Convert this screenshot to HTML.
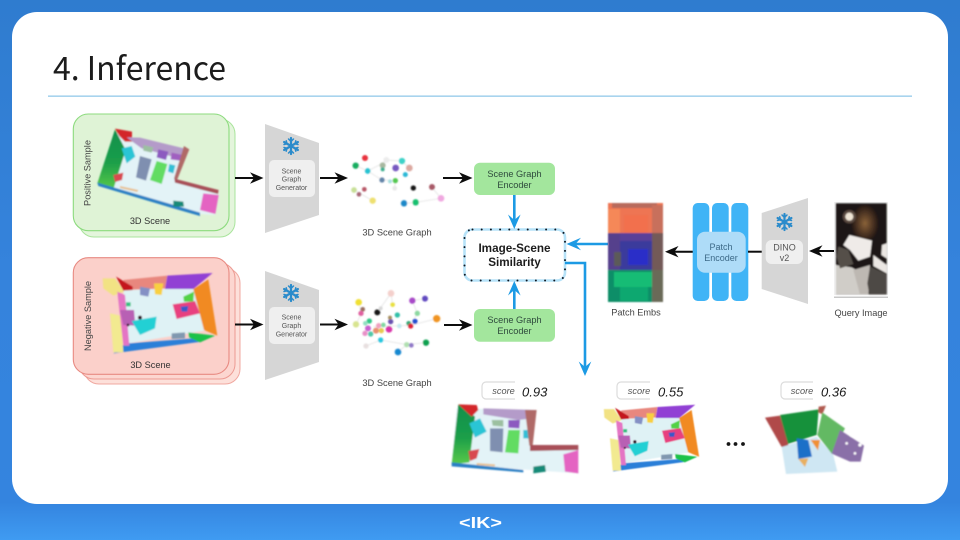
<!DOCTYPE html>
<html><head><meta charset="utf-8">
<style>
html,body{margin:0;padding:0;width:960px;height:540px;overflow:hidden;background:#fff}
svg{display:block}
text{font-family:"Liberation Sans",sans-serif}
</style></head><body>
<svg xmlns="http://www.w3.org/2000/svg" width="960" height="540" viewBox="0 0 960 540">
<defs>
<linearGradient id="bg" x1="0" y1="0" x2="0" y2="1"><stop offset="0" stop-color="#2f7ccf"/><stop offset=".5" stop-color="#3583dc"/><stop offset=".93" stop-color="#3484df"/><stop offset="1" stop-color="#3f9bf2"/></linearGradient>
<linearGradient id="wall" x1="0" y1="0" x2="0" y2="1"><stop offset="0" stop-color="#0f8f4c"/><stop offset=".55" stop-color="#1b9e4a"/><stop offset="1" stop-color="#58c948"/></linearGradient>
<radialGradient id="glow" cx=".5" cy=".5" r=".5"><stop offset="0" stop-color="#8a6238"/><stop offset=".6" stop-color="#4a3222"/><stop offset="1" stop-color="#1e1512"/></radialGradient>
<filter id="all" filterUnits="userSpaceOnUse" x="0" y="100" width="960" height="400"><feGaussianBlur stdDeviation=".3"/></filter>
<filter id="b1" x="-5%" y="-5%" width="110%" height="110%"><feGaussianBlur stdDeviation="2.4"/></filter>
<filter id="b2" x="-5%" y="-5%" width="110%" height="110%"><feGaussianBlur stdDeviation=".8"/></filter>
<filter id="b3" x="-10%" y="-10%" width="120%" height="120%"><feGaussianBlur stdDeviation="2"/></filter>

<g id="pos" filter="url(#b1)">
<polygon points="170,100 340,145 385,150 345,240 475,275 465,345 420,342 115,250" fill="#e3f3f7"/>
<polygon points="165,88 112,250 160,268 197,150" fill="url(#wall)"/>
<polygon points="165,86 216,95 216,125 195,125 178,108" fill="#d3262c"/>
<polygon points="200,112 240,113 372,145 365,178 320,165 245,145" fill="#b49bc9"/>
<polygon points="250,135 280,142 275,158 250,152" fill="#9cc0a0"/>
<polygon points="295,148 325,155 318,180 290,172" fill="#8c5ac0"/>
<polygon points="335,158 368,165 360,182 332,178" fill="#a060c0"/>
<polygon points="185,145 215,138 226,170 200,190" fill="#29c5d5"/>
<polygon points="240,168 275,178 258,242 228,232" fill="#7f8fb0"/>
<polygon points="290,183 322,192 305,252 270,240" fill="#62dc62"/>
<polygon points="328,192 346,196 340,220 324,215" fill="#30bfd6"/>
<polygon points="160,225 190,218 186,240 165,246" fill="#d84850"/>
<polygon points="372,138 388,148 352,238 342,236" fill="#b06a68"/>
<polygon points="343,236 476,270 474,282 345,248" fill="#a85058"/>
<polygon points="430,280 476,285 466,342 420,330" fill="#e463c2"/>
<polygon points="112,248 420,338 420,348 340,325 115,258" fill="#2a80c4"/>
<polygon points="340,302 370,305 372,320 340,320" fill="#178a78"/>
<polygon points="180,258 235,270 232,276 180,264" fill="#e8c090"/>
</g>

<g id="neg" filter="url(#b1)">
<polygon points="190,135 400,130 445,255 205,295" fill="#dff2f5"/>
<polygon points="190,105 322,92 315,130 195,135" fill="#e8877e"/>
<polygon points="322,92 458,84 400,132 315,132" fill="#9140d4"/>
<polygon points="445,103 472,272 432,255 400,132" fill="#f18a20"/>
<polygon points="160,325 425,290 430,278 205,295 190,300" fill="#2a7fd8"/>
<polygon points="385,262 466,272 420,292 388,278" fill="#1fc24a"/>
<polygon points="338,178 405,168 420,205 350,222" fill="#e8417f"/>
<polygon points="362,185 385,183 382,200 365,200" fill="#3a58c8"/>
<polygon points="370,155 402,140 400,170 372,170" fill="#52d244"/>
<polygon points="128,100 165,100 192,140 160,152 130,130" fill="#f2e284"/>
<polygon points="168,95 218,125 218,135 190,137" fill="#c4121f"/>
<polygon points="150,205 182,212 190,322 160,322" fill="#f2ea90"/>
<polygon points="172,140 195,150 208,302 190,302" fill="#e474c4"/>
<polygon points="180,195 222,195 226,242 190,240" fill="#b860b4"/>
<polygon points="215,228 290,215 285,250 240,270" fill="#20d0d4"/>
<polygon points="240,125 270,130 265,155 240,150" fill="#8490c4"/>
<polygon points="282,115 310,115 305,150 285,148" fill="#f8d040"/>
<polygon points="198,172 212,172 212,184 198,184" fill="#30c080"/>
<circle cx="240" cy="218" r="6" fill="#301020"/><circle cx="204" cy="240" r="4" fill="#301020"/>
<polygon points="335,265 375,262 375,280 335,282" fill="#8098b0"/>
</g>

<g id="flake" fill="none" stroke="#2b8bcb" stroke-width="2.2" stroke-linecap="round">
<path d="M0-8V8M-6.900-4L6.900 4M-6.900 4L6.900-4"/>
<path stroke-width="1.500" d="M-2.500-7L0-4.500L2.500-7M-2.500 7L0 4.500L2.500 7M-7-1.500L-4-2.300L-4.800-5.200M7-1.500L4-2.300L4.800-5.200M-7 1.500L-4 2.300L-4.800 5.200M7 1.500L4 2.300L4.800 5.200"/>
</g>
</defs>

<rect width="960" height="540" fill="url(#bg)"/>
<rect x="12" y="12" width="936" height="492" rx="25" fill="#fff"/>

<text x="53" y="80" font-size="32.500" fill="#1c1c1c" style="font-family:'Noto Sans CJK JP','Liberation Sans',sans-serif" textLength="173" lengthAdjust="spacingAndGlyphs">4. Inference</text>
<rect x="48" y="95.500" width="864" height="1.300" fill="#93c9ea"/>

<g filter="url(#all)">
<!-- cards -->
<rect x="79" y="119" width="156" height="118" rx="15" fill="#e4f5dc" stroke="#a9e49c" stroke-width="1"/>
<rect x="73.300" y="114" width="155.700" height="116.700" rx="15" fill="#dff3d6" stroke="#8cdb7e" stroke-width="1.100"/>
<use href="#pos" transform="translate(60,100) scale(.3333)"/>
<text x="150" y="224" font-size="9.200" text-anchor="middle" fill="#333">3D Scene</text>
<text transform="translate(90.500,173) rotate(-90)" font-size="9.200" text-anchor="middle" fill="#444">Positive Sample</text>

<rect x="84" y="268" width="156" height="116" rx="15" fill="#fde0da" stroke="#f0a8a0" stroke-width="1"/>
<rect x="79" y="263" width="156" height="116" rx="15" fill="#fcd6d0" stroke="#ec9a92" stroke-width="1"/>
<rect x="73.300" y="257.700" width="155.700" height="116.600" rx="15" fill="#fbd0ca" stroke="#e88a82" stroke-width="1.100"/>
<use href="#neg" transform="translate(60,245) scale(.3333)"/>
<text x="150.500" y="368" font-size="9.200" text-anchor="middle" fill="#333">3D Scene</text>
<text transform="translate(91,316) rotate(-90)" font-size="9.200" text-anchor="middle" fill="#444">Negative Sample</text>

<!-- generators -->
<polygon points="265,124 319,143 319,215 265,233" fill="#d6d6d6"/>
<rect x="269" y="160" width="46" height="37" rx="5" fill="#efefef"/>
<use href="#flake" transform="translate(291,146)"/>
<g font-size="7" text-anchor="middle" fill="#555"><text x="291.500" y="173.500">Scene</text><text x="291.500" y="181.500">Graph</text><text x="291.500" y="190">Generator</text></g>

<polygon points="265,271 319,290 319,362 265,380" fill="#d6d6d6"/>
<rect x="269" y="307" width="46" height="37" rx="5" fill="#efefef"/>
<use href="#flake" transform="translate(291,293)"/>
<g font-size="7" text-anchor="middle" fill="#555"><text x="291.500" y="319.500">Scene</text><text x="291.500" y="328">Graph</text><text x="291.500" y="336.500">Generator</text></g>

<!-- graph 1 -->
<g transform="translate(340,140) scale(.3333)" filter="url(#b3)">
<g stroke="#e8e8e8" stroke-width="3" fill="none"><path d="M47 77L83 93L128 70L138 60L186 63L208 85M42 150L98 182M126 120L166 122L164 145M275 141L303 175L226 187L192 190M83 93L126 120"/></g>
<circle cx="75" cy="54" r="9" fill="#e8303c"/><circle cx="47" cy="77" r="9.500" fill="#12ad60"/><circle cx="83" cy="93" r="8.500" fill="#25c3d2"/>
<circle cx="128" cy="76" r="9" fill="#a8b8a0"/><circle cx="128" cy="88" r="6" fill="#40b090"/><circle cx="139" cy="60" r="9" fill="#ececec"/><circle cx="186" cy="63" r="9.500" fill="#3ed2c8"/>
<circle cx="167" cy="84" r="10" fill="#7658c0"/><circle cx="208" cy="84" r="10" fill="#dca8a0"/><circle cx="196" cy="104" r="7.500" fill="#2bb8d6"/>
<circle cx="126" cy="120" r="8" fill="#6484a8"/><circle cx="166" cy="122" r="8" fill="#52c850"/><circle cx="150" cy="124" r="6" fill="#a8e0e0"/><circle cx="164" cy="145" r="7" fill="#e8e8e8"/>
<circle cx="42" cy="150" r="8.500" fill="#c8e098"/><circle cx="73" cy="148" r="7" fill="#b85868"/><circle cx="57" cy="163" r="7" fill="#a86878"/><circle cx="98" cy="182" r="9.500" fill="#eee070"/>
<circle cx="220" cy="144" r="8" fill="#151515"/><circle cx="276" cy="141" r="9" fill="#a85a68"/><circle cx="303" cy="175" r="10" fill="#f0a8e0"/><circle cx="227" cy="187" r="9.500" fill="#18c070"/><circle cx="192" cy="190" r="9.500" fill="#1c88c8"/>
</g>
<text x="397" y="235.500" font-size="9.300" text-anchor="middle" fill="#444">3D Scene Graph</text>

<!-- graph 2 -->
<g transform="translate(340,270) scale(.3333)" filter="url(#b3)">
<g stroke="#e8e8e8" stroke-width="3" fill="none"><path d="M56 97L64 130L48 163M153 70L112 127M153 70L158 104M217 92L232 130L212 166L290 146M255 86L217 92M78 228L122 210L200 224L258 218M174 246L200 224M100 170L212 166"/></g>
<circle cx="56" cy="97" r="10" fill="#f0e030"/><circle cx="68" cy="118" r="7" fill="#9a7060"/><circle cx="63" cy="130" r="8" fill="#e060a0"/><circle cx="153" cy="70" r="10" fill="#f4d0cc"/><circle cx="158" cy="104" r="7" fill="#e8e040"/>
<circle cx="112" cy="127" r="9" fill="#151515"/><circle cx="122" cy="115" r="6" fill="#d8d8d8"/><circle cx="217" cy="92" r="9.500" fill="#a848c8"/><circle cx="255" cy="86" r="9" fill="#6048c0"/><circle cx="232" cy="130" r="8" fill="#8cd8a0"/><circle cx="172" cy="135" r="8" fill="#30c0a8"/>
<circle cx="290" cy="146" r="11" fill="#f09420"/><circle cx="48" cy="163" r="9.500" fill="#d8e490"/><circle cx="88" cy="153" r="8" fill="#30c888"/><circle cx="76" cy="160" r="7" fill="#90e0c0"/><circle cx="84" cy="175" r="9" fill="#c860d0"/><circle cx="75" cy="190" r="8" fill="#e890c8"/><circle cx="92" cy="192" r="8" fill="#50c8a8"/><circle cx="108" cy="182" r="9" fill="#e89070"/><circle cx="116" cy="167" r="8" fill="#f0a0c0"/><circle cx="130" cy="165" r="7" fill="#80d8a0"/><circle cx="124" cy="182" r="8" fill="#e8c850"/><circle cx="147" cy="178" r="10" fill="#d830a8"/><circle cx="152" cy="155" r="8" fill="#6850b0"/><circle cx="150" cy="143" r="6" fill="#a89060"/><circle cx="178" cy="168" r="7" fill="#c8e8f0"/>
<circle cx="206" cy="160" r="7" fill="#30a878"/><circle cx="212" cy="168" r="8" fill="#e02038"/><circle cx="225" cy="154" r="8" fill="#2050d0"/><circle cx="122" cy="210" r="8" fill="#28c8e0"/><circle cx="78" cy="228" r="8" fill="#e8e0e0"/><circle cx="200" cy="224" r="8" fill="#b0e0b0"/><circle cx="214" cy="226" r="7" fill="#9078c8"/><circle cx="258" cy="218" r="9.500" fill="#10a050"/><circle cx="174" cy="246" r="10" fill="#1888d0"/>
</g>
<text x="397" y="386" font-size="9.300" text-anchor="middle" fill="#444">3D Scene Graph</text>

<!-- black arrows -->
<g fill="#0c0c0c">
<g stroke="#0c0c0c" stroke-width="2"><path d="M235 178H258M320 178H342M443 178H466M235 324.500H258M320 324.500H342M444 325H466M693 251.700H670M834 251H814"/></g>
<path d="M263.500 178L250 172.300L254 178L250 183.700ZM348 178L334.500 172.300L338.500 178L334.500 183.700ZM472.500 178L459 172.300L463 178L459 183.700ZM263.500 324.500L250 318.800L254 324.500L250 330.200ZM348 324.500L334.500 318.800L338.500 324.500L334.500 330.200ZM472.500 325L459 319.300L463 325L459 330.700ZM665 251.700L678.500 246L674.500 251.700L678.500 257.400ZM809 251L822.500 245.300L818.500 251L822.500 256.700Z"/>
</g>

<!-- encoders -->
<rect x="474" y="162.700" width="81" height="32.300" rx="6" fill="#a3e69d"/>
<rect x="474" y="309" width="81" height="32.700" rx="6" fill="#a3e69d"/>
<g font-size="9.200" text-anchor="middle" fill="#2e4a3c"><text x="514.500" y="177">Scene Graph</text><text x="514.500" y="188">Encoder</text><text x="514.500" y="323">Scene Graph</text><text x="514.500" y="334">Encoder</text></g>

<!-- similarity -->
<rect x="464.500" y="229.500" width="100.500" height="51" rx="8" fill="#fff" stroke="#b6e2f8" stroke-width="2.600"/>
<rect x="464.500" y="229.500" width="100.500" height="51" rx="8" fill="none" stroke="#101820" stroke-width="2" stroke-linecap="round" stroke-dasharray="0 9.200"/>
<text x="514.500" y="252" font-size="11.700" font-weight="bold" text-anchor="middle" fill="#1f1f1f">Image-Scene</text>
<text x="514.500" y="266" font-size="11.700" font-weight="bold" text-anchor="middle" fill="#1f1f1f">Similarity</text>

<!-- blue arrows -->
<g fill="none" stroke="#1b9ae4" stroke-width="2.600"><path d="M514.300 195V226M514.300 309V284M608 244H570M565 263H585V373"/></g>
<g fill="#1b9ae4"><path d="M514.300 229L508 214.500L514.300 220L520.600 214.500ZM514.300 281L508 295.500L514.300 290L520.600 295.500ZM566.500 244L581 237.700L575.500 244L581 250.300ZM585 376L578.700 361.500L585 367L591.300 361.500Z"/></g>

<!-- patch embs -->
<g filter="url(#b2)">
<rect x="608" y="203" width="55" height="99" fill="#4a3a80"/>
<rect x="608" y="203" width="55" height="30" fill="#ee7453"/>
<rect x="612" y="203" width="45" height="5" fill="#b86a5c"/>
<rect x="608" y="209" width="12" height="24" fill="#f58858"/>
<rect x="624" y="215" width="24" height="18" fill="#f2704e"/>
<rect x="652" y="205" width="11" height="28" fill="#c8705c"/>
<rect x="608" y="233" width="12" height="37" fill="#54408c"/>
<rect x="620" y="233" width="32" height="8" fill="#5a3f98"/>
<rect x="620" y="241" width="32" height="29" fill="#3a3a9c"/>
<rect x="628" y="249" width="20" height="16" fill="#2a2fc8"/>
<rect x="614" y="252" width="7" height="14" fill="#5c5a58"/>
<rect x="652" y="233" width="11" height="37" fill="#735a58"/>
<rect x="608" y="270" width="55" height="32" fill="#108e68"/>
<rect x="614" y="272" width="38" height="15" fill="#12bc74"/>
<rect x="620" y="287" width="28" height="14" fill="#10a870"/>
<rect x="652" y="270" width="11" height="32" fill="#6a6a58"/>
</g>
<text x="636" y="315.500" font-size="9.200" text-anchor="middle" fill="#444">Patch Embs</text>

<!-- patch encoder -->
<rect x="692.700" y="203" width="16.600" height="98" rx="5" fill="#3fb4f6"/>
<rect x="712" y="203" width="16.700" height="98" rx="5" fill="#3fb4f6"/>
<rect x="731.300" y="203" width="17" height="98" rx="5" fill="#3fb4f6"/>
<rect x="697" y="231.700" width="48.700" height="41" rx="8" fill="#aedcf8"/>
<text x="721" y="250" font-size="9" text-anchor="middle" fill="#3d6a88">Patch</text>
<text x="721" y="261" font-size="9" text-anchor="middle" fill="#3d6a88">Encoder</text>

<!-- dino -->
<path d="M748 251.700H762" stroke="#0c0c0c" stroke-width="2"/>
<polygon points="761.700,213 808,198 808,304 761.700,289" fill="#d6d6d6"/>
<rect x="765.700" y="240" width="37.300" height="24" rx="6" fill="#efefef"/>
<use href="#flake" transform="translate(784.500,222)"/>
<text x="784.500" y="250.500" font-size="9" text-anchor="middle" fill="#555">DINO</text>
<text x="784.500" y="261" font-size="9" text-anchor="middle" fill="#555">v2</text>

<!-- query image -->
<rect x="834" y="202" width="54" height="93" fill="#f0f0f0"/>
<g transform="translate(820,190) scale(.3333)" filter="url(#b3)">
<rect x="48" y="40" width="152" height="273" fill="#1b1412"/>
<ellipse cx="135" cy="100" rx="42" ry="58" fill="url(#glow)"/>
<circle cx="88" cy="80" r="20" fill="#5a4a40"/>
<circle cx="88" cy="80" r="12" fill="#eee4d4"/>
<polygon points="48,313 48,225 95,232 145,260 145,313" fill="#d0cdc8"/>
<polygon points="100,240 150,225 145,313 120,313" fill="#bdb8b2"/>
<polygon points="55,170 85,180 100,222 60,235 50,200" fill="#55504a"/>
<polygon points="88,135 156,152 150,200 115,212 90,180 70,165" fill="#efebe8"/>
<polygon points="150,230 200,252 200,313 148,313 142,280" fill="#4e4a44"/>
<polygon points="160,195 200,225 200,250 160,228" fill="#ebe7e3"/>
<polygon points="186,165 200,160 200,205 184,195" fill="#ebe7e3"/>
</g>
<rect x="834" y="296.500" width="54" height="1.500" fill="#c8c8c8"/>
<text x="861" y="316" font-size="9.200" text-anchor="middle" fill="#444">Query Image</text>

<!-- scores -->
<g fill="#fff" stroke="#dcdcdc" stroke-width="1.200">
<path d="M515 382H486a4 4 0 0 0-4 4V395a4 4 0 0 0 4 4H515"/>
<path d="M650 382H621a4 4 0 0 0-4 4V395a4 4 0 0 0 4 4H650"/>
<path d="M813 382H785a4 4 0 0 0-4 4V395a4 4 0 0 0 4 4H813"/>
</g>
<g font-size="9.200" font-style="italic" text-anchor="middle" fill="#555"><text x="503.500" y="394">score</text><text x="639" y="394">score</text><text x="802" y="394">score</text></g>
<g font-size="13" font-style="italic" fill="#1a1a1a"><text x="522" y="396.500">0.93</text><text x="658" y="396.500">0.55</text><text x="821" y="396.500">0.36</text></g>

<!-- result 1 -->
<g transform="translate(440,375) scale(.3333)" filter="url(#b3)">
<polygon points="50,100 290,105 275,215 415,215 415,295 35,268" fill="#e3f3f7"/>
<polygon points="55,88 35,268 88,262 105,125" fill="url(#wall)"/>
<polygon points="55,88 110,90 115,105 95,125" fill="#d3262c"/>
<polygon points="130,100 285,105 275,130 235,135 130,118" fill="#b49bc9"/>
<polygon points="155,135 190,135 190,155 158,152" fill="#9cc0a0"/>
<polygon points="205,135 240,135 238,160 205,158" fill="#8c5ac0"/>
<polygon points="88,145 120,130 140,170 105,188" fill="#29c5d5"/>
<polygon points="150,160 190,160 188,232 150,228" fill="#7f8fb0"/>
<polygon points="205,165 240,165 235,235 195,232" fill="#62dc62"/>
<polygon points="250,165 270,165 268,190 250,190" fill="#30bfd6"/>
<polygon points="85,228 118,222 110,250 90,258" fill="#d84850"/>
<polygon points="255,105 290,105 278,212 268,212" fill="#b06a68"/>
<polygon points="270,210 415,210 415,225 270,228" fill="#a85058"/>
<polygon points="370,238 415,225 415,295 375,290" fill="#e463c2"/>
<polygon points="35,262 250,285 250,292 35,274" fill="#2a80c4"/>
<polygon points="280,275 315,270 318,290 280,295" fill="#178a78"/>
<polygon points="110,264 165,268 165,274 110,270" fill="#e8c090"/>
</g>

<use href="#neg" transform="translate(603,405) scale(.277) translate(-125,-85)"/>

<circle cx="728.500" cy="444" r="1.900" fill="#151515"/><circle cx="735.500" cy="444" r="1.900" fill="#151515"/><circle cx="743" cy="444" r="1.900" fill="#151515"/>

<!-- result 3 -->
<g transform="translate(660,375) scale(.3333)" filter="url(#b3)">
<polygon points="365,215 470,185 520,240 532,290 378,297" fill="#cfe7f3"/>
<polygon points="360,120 476,103 470,180 380,208" fill="#14913a"/>
<polygon points="315,128 360,122 385,210 365,216" fill="#b04848"/>
<polygon points="476,95 498,92 487,118 475,112" fill="#b05a50"/>
<polygon points="487,112 555,160 515,236 472,180" fill="#63b964"/>
<polygon points="540,165 612,212 602,260 570,260 515,236" fill="#8a70a8"/>
<polygon points="410,190 445,195 456,245 415,252" fill="#1a70c8"/>
<polygon points="452,195 480,195 474,226" fill="#f09030"/>
<polygon points="415,252 445,250 435,276" fill="#e8b060"/>
<g fill="#fff"><circle cx="575" cy="180" r="5"/><circle cx="600" cy="210" r="5"/><circle cx="560" cy="205" r="4"/><circle cx="585" cy="235" r="4"/></g>
</g>
</g>

<text x="480.500" y="528" font-size="16" font-weight="bold" text-anchor="middle" fill="#fff" textLength="43" lengthAdjust="spacingAndGlyphs">&lt;IK&gt;</text>
</svg>
</body></html>
